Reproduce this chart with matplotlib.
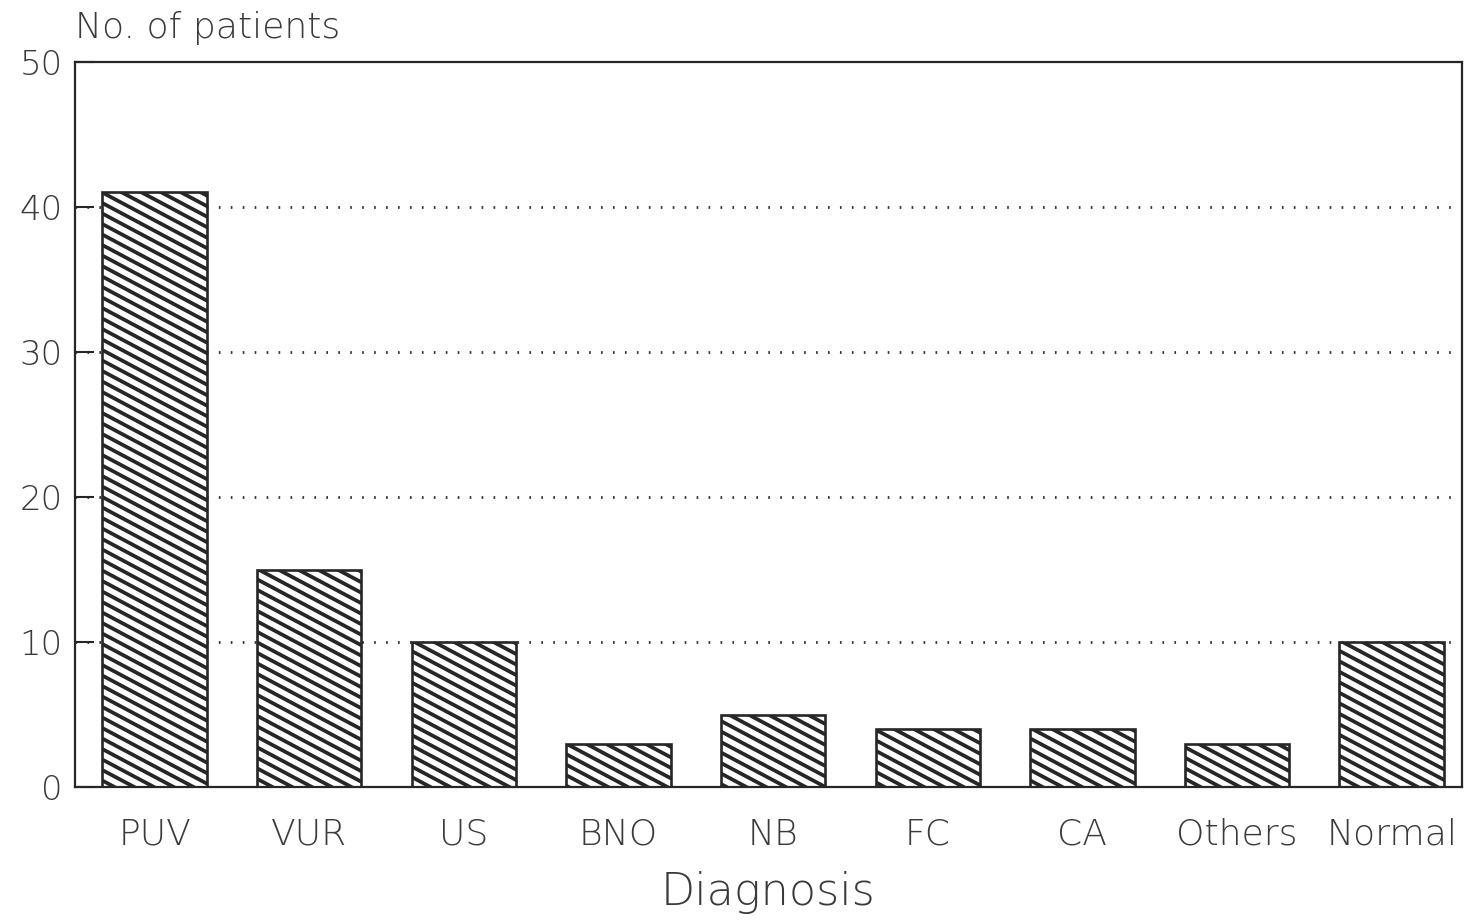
import numpy as np
import matplotlib
matplotlib.use('Agg')
import matplotlib.pyplot as plt
from matplotlib.collections import LineCollection

# data
diagnoses = ['PUV', 'VUR', 'US', 'BNO', 'NB', 'FC', 'CA', 'Others', 'Normal']
patients = [41, 15, 10, 3, 5, 4, 4, 3, 10]
yticks = [0, 10, 20, 30, 40, 50]

ink = '#262626'
txt = '#3a3a3a'
plt.rcParams['font.family'] = ['DejaVu Sans']
plt.rcParams['font.weight'] = 'light'
plt.rcParams['axes.labelweight'] = 'light'

fig = plt.figure(figsize=(14.7, 9.22), dpi=100)
left, bottom, right, top = 75 / 1470, 1 - 787 / 922, 1462 / 1470, 1 - 62 / 922
ax = fig.add_axes([left, bottom, right - left, top - bottom])

x = np.arange(len(diagnoses))
bars = ax.bar(x, patients, width=0.675, color='white', edgecolor='none', zorder=2)

ax.set_xlim(-0.515, 8.455)
ax.set_ylim(0, 50)

# scanned-plotter style hatch, ~28 degrees, clipped into each bar
W = fig.get_figwidth() * fig.dpi * (right - left)
H = fig.get_figheight() * fig.dpi * (top - bottom)
slope = np.tan(np.radians(28))
step = 10.5
segs = []
for c in np.arange(0, H + W * slope + step, step):
    segs.append([(0, c / H), (1, (c - W * slope) / H)])
for b in bars:
    lc = LineCollection(segs, colors=ink, linewidths=2.7, transform=ax.transAxes, zorder=3)
    ax.add_collection(lc)
    lc.set_clip_path(b.get_path(), b.get_transform())

ax.bar(x, patients, width=0.675, fill=False, edgecolor=ink, linewidth=1.9, zorder=4)

for v in yticks[1:-1]:
    ax.axhline(v, color='#333333', linewidth=2, linestyle=(0, (0.6, 3.7)), zorder=1)

for s in ax.spines.values():
    s.set_color(ink)
    s.set_linewidth(1.6)

ax.set_yticks(yticks)
ax.set_xticks(x)
ax.set_xticklabels(diagnoses)
ax.tick_params(axis='y', direction='in', length=14, width=1.5, color=ink,
               labelsize=24.5, labelcolor=txt, pad=9)
ax.tick_params(axis='x', length=0, labelsize=26, labelcolor=txt, pad=22)

ax.set_xlabel('Diagnosis', fontsize=32, color=txt, labelpad=14, fontweight='light')
fig.text(left, 1 - 38 / 922, 'No. of patients', fontsize=26, color=txt,
         ha='left', va='baseline')

fig.savefig('out.png', dpi=100)
